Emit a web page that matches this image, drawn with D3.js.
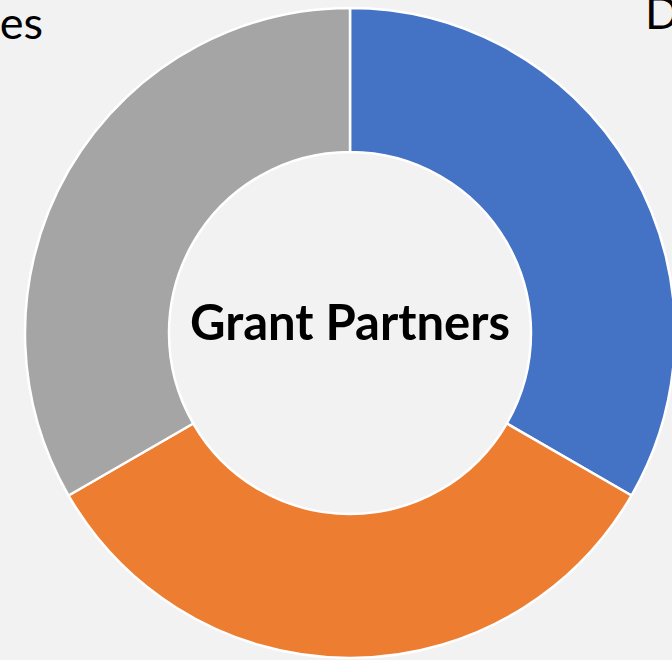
<!DOCTYPE html>
<html><head><meta charset="utf-8">
<script src="https://cdn.jsdelivr.net/npm/d3@7"></script>
<style>html,body{margin:0;padding:0;background:#f2f2f2;overflow:hidden}</style>
</head><body>
<svg id="c" width="672" height="660"></svg>
<script>
const categories = ["Donors", "Districts", "Agencies"];
const values = [1, 1, 1];
const colors = ["#4472c4", "#ed7d31", "#a5a5a5"];
const centerTitle = "Grant Partners";

const W = 672, H = 660;
const cx = 350, cy = 333, outerR = 325, innerR = 181;
const svg = d3.select("#c");
svg.append("rect").attr("width", W).attr("height", H).attr("fill", "#f2f2f2");
const g = svg.append("g").attr("transform", `translate(${cx},${cy})`);

const pie = d3.pie().sort(null).value(d => d.v);
const arc = d3.arc().innerRadius(innerR).outerRadius(outerR);
const data = pie(categories.map((c, i) => ({c, v: values[i], col: colors[i]})));
g.selectAll("path").data(data).join("path")
  .attr("d", arc).attr("fill", d => d.data.col)
  .attr("stroke", "#ffffff").attr("stroke-width", 2.5).attr("stroke-linejoin", "round");

// center title
const t = g.append("text").attr("text-anchor", "middle").attr("x", 0).attr("y", 7)
  .attr("font-family", "Lato, 'Open Sans', sans-serif").attr("font-weight", "bold")
  .attr("font-size", 44).attr("fill", "#000").text(centerTitle);
const w = t.node().getComputedTextLength();
t.attr("font-size", 44 * 320 / w);

// outside labels (partially cut off by the frame, as in the reference)
const labelFont = "Lato, 'Open Sans', sans-serif";
svg.append("text").attr("x", 645).attr("y", 29).attr("text-anchor", "start")
  .attr("font-family", labelFont).attr("font-size", 45).attr("fill", "#000").text(categories[0]);
svg.append("text").attr("x", 43).attr("y", 39).attr("text-anchor", "end")
  .attr("font-family", labelFont).attr("font-size", 45).attr("fill", "#000").text(categories[2]);
</script>
</body></html>
